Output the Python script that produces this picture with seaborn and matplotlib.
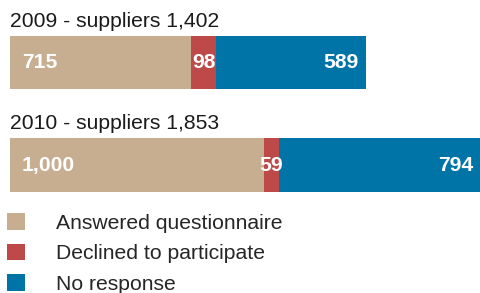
import numpy as np
import pandas as pd
import seaborn as sns
import matplotlib.pyplot as plt

# data
YEARS = ['2009', '2010']
TOTALS = [1402, 1853]
ANSWERED = [715, 1000]
DECLINED = [98, 59]
NO_RESPONSE = [589, 794]
CATEGORIES = ['Answered questionnaire', 'Declined to participate', 'No response']
COLORS = ['#C8AE91', '#BE4949', '#0074A6']

sns.set_theme(style='white')
plt.rcParams['font.family'] = ['Liberation Sans', 'DejaVu Sans']

df = pd.DataFrame({'year': YEARS, 'answered': ANSWERED,
                   'declined': DECLINED, 'none': NO_RESPONSE})
df['cum_declined'] = df['answered'] + df['declined']
df['cum_none'] = df['cum_declined'] + df['none']

W, H = 480, 293
fig = plt.figure(figsize=(W / 100, H / 100), dpi=100)
# bars area: x 10..480 px, y 36..192 px
ax = fig.add_axes([10 / W, 1 - 192 / H, 470 / W, 156 / H])

bw = 0.52
sns.barplot(data=df, x='cum_none', y='year', orient='h', color=COLORS[2],
            width=bw, saturation=1, linewidth=0, label=CATEGORIES[2], ax=ax)
sns.barplot(data=df, x='cum_declined', y='year', orient='h', color=COLORS[1],
            width=bw, saturation=1, linewidth=0, label=CATEGORIES[1], ax=ax)
sns.barplot(data=df, x='answered', y='year', orient='h', color=COLORS[0],
            width=bw, saturation=1, linewidth=0, label=CATEGORIES[0], ax=ax)

ax.set_xlim(0, 1853)
ax.set_ylim(1.263, -0.259)
ax.axis('off')
if ax.get_legend() is not None:
    ax.get_legend().remove()

px = 1853 / 470  # data units per pixel
fs = 15.2
for i, row in df.iterrows():
    ax.text(0, i - bw / 2 - 0.09, f'{YEARS[i]} - suppliers {TOTALS[i]:,}',
            fontsize=fs, color='#1a1a1a', va='baseline', ha='left')
    ax.text(12 * px, i, f'{row.answered:,}', color='white', fontsize=fs,
            fontweight='bold', va='center', ha='left')
    ax.text(row.answered + row.declined / 2, i, f'{row.declined:,}',
            color='white', fontsize=fs, fontweight='bold', va='center', ha='center')
    ax.text(row.cum_none - 7 * px, i, f'{row.none:,}', color='white',
            fontsize=fs, fontweight='bold', va='center', ha='right')

handles, labels = ax.get_legend_handles_labels()
order = [labels.index(c) for c in CATEGORIES]
fig.legend([handles[k] for k in order], [labels[k] for k in order],
           loc='upper left', bbox_to_anchor=(1 / W, 1 - 207 / H),
           frameon=False, fontsize=fs, handlelength=0.85, handleheight=0.85,
           handletextpad=1.45, labelspacing=0.5, borderpad=0.3,
           borderaxespad=0)

fig.savefig('out.png', dpi=100)
